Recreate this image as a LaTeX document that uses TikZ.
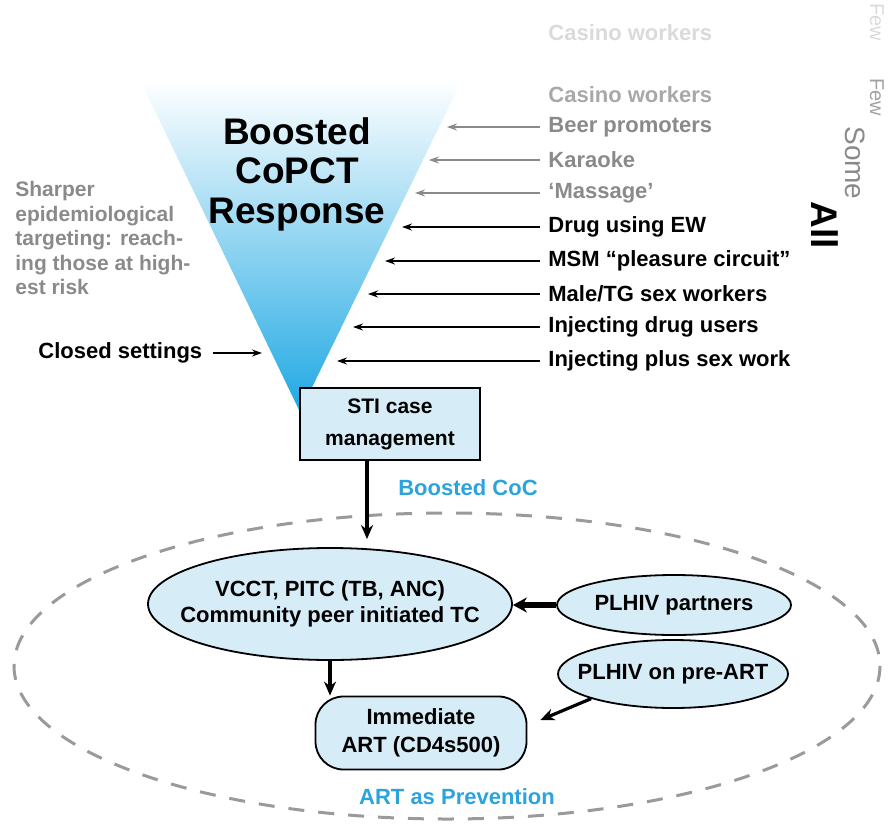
\documentclass[tikz,border=0pt]{standalone}
\usepackage{fontspec}
\setmainfont{Liberation Sans}
\usetikzlibrary{positioning, arrows.meta, shapes.geometric}
\definecolor{funnelc}{HTML}{1FA8E3}
\definecolor{boxfill}{HTML}{D6ECF7}
\definecolor{cocblue}{HTML}{2BA3DC}
\definecolor{grayc}{HTML}{8A8A8A}
\definecolor{lightgrayc}{HTML}{A8A8A8}
\definecolor{ghostc}{HTML}{DADADA}
\definecolor{dashc}{HTML}{9A9A9A}

\tikzset{
  grouplab/.style={anchor=west, inner sep=4pt, font=\fontsize{11}{13}\selectfont\bfseries},
  grayarrow/.style={-{Stealth[length=5pt, width=3.5pt]}, line width=0.75pt, grayc},
  blackarrow/.style={-{Stealth[length=5pt, width=3.5pt]}, line width=1.1pt, black},
  flow/.style={-{Stealth[length=7pt, width=6pt]}, line width=1.6pt, black},
  bigflow/.style={-{Stealth[length=7pt, width=7.5pt]}, line width=2.6pt, black},
  oval/.style={ellipse, draw, line width=0.9pt, fill=boxfill, inner sep=0pt},
  ovaltext/.style={align=center, inner sep=0pt, font=\fontsize{11}{13}\selectfont\bfseries},
  bluelab/.style={font=\fontsize{11}{13}\selectfont\bfseries, text=cocblue}
}

\begin{document}
\begin{tikzpicture}[x=0.5pt, y=-0.5pt]
  \useasboundingbox (0,0) rectangle (892,828);
  % funnel
  \shade[top color=white, middle color=funnelc!45, bottom color=funnelc]
    (140,80) -- (462,80) -- (300,412) -- cycle;
  \node[align=center, font=\fontsize{18.5}{19.75}\selectfont\bfseries] (title) at (297,174)
    {Boosted\\CoPCT\\Response};
  % left side notes
  \node[anchor=north west, inner sep=0pt, align=left, text=grayc,
        font=\fontsize{10.5}{12.25}\selectfont\bfseries] (sharper) at (15,181)
    {Sharper\\epidemiological\\targeting: reach-\\ing those at high-\\est risk};
  \node[anchor=west, inner sep=0pt, font=\fontsize{11}{13}\selectfont\bfseries] (closed) at (38,353) {Closed settings};
  \coordinate (closedtip) at (262,353);
  \draw[blackarrow] ([xshift=5pt]closed.east) -- (closedtip);
  % groups feeding the funnel
  \node[grouplab, text=ghostc] (ghost) at (540,33) {Casino workers};
  \node[grouplab, text=lightgrayc] (casino) at (540,95) {Casino workers};
  \foreach \i/\yy/\tx/\cc/\st/\txt in {
      1/127/447/grayc/grayarrow/{Beer promoters},
      2/160/429/grayc/grayarrow/{Karaoke},
      3/193/415/grayc/grayarrow/{‘Massage’},
      4/227/402/black/blackarrow/{Drug using EW},
      5/261/385/black/blackarrow/{MSM “pleasure circuit”},
      6/294/368/black/blackarrow/{Male/TG sex workers},
      7/327/353/black/blackarrow/{Injecting drug users},
      8/361/337/black/blackarrow/{Injecting plus sex work}} {
    \node[grouplab, text=\cc] (grp\i) at (540,\yy) {\txt};
    \coordinate (tip\i) at (\tx,\yy);
    \draw[\st] (grp\i.west) -- (tip\i);
  }
  % reach scale
  \node[rotate=-90, text=ghostc, font=\fontsize{10}{12}\selectfont] (fewghost) at (877,22) {Few};
  \node[rotate=-90, text=grayc!80, font=\fontsize{10}{12}\selectfont] (few) at (877,97) {Few};
  \node[rotate=-90, text=grayc, font=\fontsize{14}{16}\selectfont] (some) at (855,163) {Some};
  \node[rotate=-90, font=\fontsize{18.5}{20}\selectfont\bfseries] (all) at (825,225) {All};
  % STI box and continuum of care
  \node[draw, line width=0.9pt, fill=boxfill, minimum width=90pt, minimum height=36pt,
        align=center, font=\fontsize{10.5}{16}\selectfont\bfseries] (sti) at (390,424)
    {STI case\\management};
  \node[bluelab] (coc) at (468,488) {Boosted CoC};
  \draw[dashc, line width=1.5pt, dash pattern=on 8pt off 7pt] (447,666) ellipse [x radius=433, y radius=153];
  \node[oval, minimum width=182pt, minimum height=56pt] (vcct) at (330,604) {};
  \node[ovaltext] (vcctlab) at (vcct) {VCCT, PITC (TB, ANC)\\Community peer initiated TC};
  \node[oval, minimum width=117pt, minimum height=30pt] (partners) at (674,605) {};
  \node[ovaltext] (partnerslab) at (partners) {PLHIV partners};
  \node[oval, minimum width=115pt, minimum height=34pt] (preart) at (673,674) {};
  \node[ovaltext] (preartlab) at (preart) {PLHIV on pre-ART};
  \node[draw, line width=0.9pt, fill=boxfill, rounded corners=14pt, minimum width=105.5pt,
        minimum height=36.5pt, align=center, font=\fontsize{11}{14}\selectfont\bfseries] (art) at (421,733)
    {Immediate\\ART (CD4s500)};
  \node[bluelab] (artprev) at (457,797) {ART as Prevention};
  % connectors
  \draw[flow, shorten >=4pt] ([xshift=-11.5pt]sti.south) -- ([xshift=-11.5pt]sti.south |- vcct.north);
  \draw[flow] (vcct.south) -- (vcct.south |- art.north);
  \draw[bigflow] (partners.west) -- (partners.west -| vcct.east);
  \draw[flow] (preart.south west) -- ([xshift=6.5pt, yshift=6.5pt]art.east);
\end{tikzpicture}
\end{document}
